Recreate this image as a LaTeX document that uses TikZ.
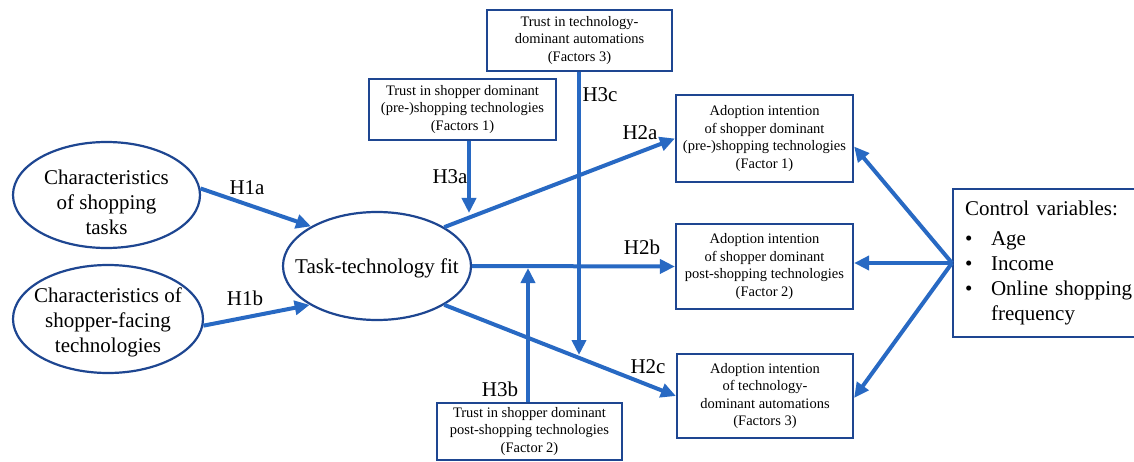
\documentclass[tikz,border=0pt]{standalone}
\usepackage{fontspec}
\setmainfont{Liberation Serif}
\usetikzlibrary{shapes.geometric,arrows.meta}
\definecolor{arrowblue}{RGB}{40,105,195}
\definecolor{borderblue}{RGB}{30,70,145}
\begin{document}
\begin{tikzpicture}[x=1pt,y=-1pt,
  bigtext/.style={font=\fontsize{21}{25}\selectfont},
  smalltext/.style={font=\fontsize{14.5}{17.5}\selectfont},
  oval/.style={ellipse, draw=borderblue, line width=2.2pt, inner sep=0pt},
  ovaltext/.style={bigtext, align=center, inner sep=0pt},
  sbox/.style={rectangle, draw=borderblue, line width=2.2pt, inner sep=0pt, align=center, smalltext},
  link/.style={draw=arrowblue, line width=4pt, -{Triangle[length=15pt,width=14pt]}},
  hlabel/.style={bigtext, inner sep=0pt},
]
\useasboundingbox (0,0) rectangle (1134,462);

% ellipses
\node[oval, minimum width=187pt, minimum height=106pt] (e1) at (106.5,195) {};
\node[ovaltext] (e1t) at (106.5,202) {Characteristics\\of shopping\\tasks};
\node[oval, minimum width=190pt, minimum height=108pt] (e2) at (108,319) {};
\node[ovaltext] (e2t) at (108,322) {Characteristics of\\shopper-facing\\technologies};
\node[oval, minimum width=188pt, minimum height=108pt] (task) at (377,266) {};
\node[ovaltext] (taskt) at (377,268) {Task-technology fit};

% boxes
\node[sbox, minimum width=187pt, minimum height=61pt] (trust1) at (462.5,109.5) {Trust in shopper dominant\\(pre-)shopping technologies\\(Factors 1)};
\node[sbox, minimum width=185pt, minimum height=61pt] (trust3) at (579.5,40.5) {Trust in technology-\\dominant automations\\(Factors 3)};
\node[sbox, minimum width=185pt, minimum height=57pt] (trust2) at (529.5,431.5) {Trust in shopper dominant\\post-shopping technologies\\(Factor 2)};
\node[sbox, minimum width=177pt, minimum height=87pt] (adopt1) at (764.5,138.5) {Adoption intention\\of shopper dominant\\(pre-)shopping technologies\\(Factor 1)};
\node[sbox, minimum width=177pt, minimum height=85pt] (adopt2) at (764.5,266.5) {Adoption intention\\of shopper dominant\\post-shopping technologies\\(Factor 2)};
\node[sbox, minimum width=176pt, minimum height=84pt] (adopt3) at (765,396) {Adoption intention\\of technology-\\dominant automations\\(Factors 3)};

\node[draw=borderblue, line width=2.2pt, anchor=west, inner xsep=12pt, inner ysep=0pt,
      minimum height=148pt, text width=220pt, align=left, bigtext] (control) at (952,263)
  {\begin{tabular}{@{}l@{\hspace{18.6pt}}l@{}}
   \multicolumn{2}{@{}l}{Control variables:}\\[5pt]
   \textbullet & Age\\
   \textbullet & Income\\
   \textbullet & Online shopping\\
               & frequency
   \end{tabular}};

% connectors
\draw[link] (e1.4) -- (task.149);
\draw[link] (e2.-4) -- (task.210);
\draw[link] (task.30) -- (adopt1.west);
\draw[link] (task.east) -- (adopt2.west);
\draw[link] (task.-30) -- (adopt3.west);
\coordinate (h3atip) at (469,213);
\draw[link] (trust1.south -| h3atip) -- (h3atip);
\coordinate (h3btip) at (528,268);
\draw[link] (trust2.north -| h3btip) -- (h3btip);
\coordinate (h3ctip) at (579,355);
\draw[link] (trust3.south -| h3ctip) -- (h3ctip);
\draw[link] (control.west) -- ([yshift=-8pt]adopt1.east);
\draw[link] (control.west) -- (adopt2.east |- control.west);
\draw[link] (control.west) -- ([yshift=-2pt]adopt3.east);

% labels
\node[hlabel] (lh1a) at (247,188) {H1a};
\node[hlabel] (lh1b) at (245,298) {H1b};
\node[hlabel] (lh2a) at (640,133) {H2a};
\node[hlabel] (lh2b) at (642,247) {H2b};
\node[hlabel] (lh2c) at (648,367) {H2c};
\node[hlabel] (lh3a) at (450,177) {H3a};
\node[hlabel] (lh3b) at (500,389) {H3b};
\node[hlabel] (lh3c) at (600,95) {H3c};
\end{tikzpicture}
\end{document}
